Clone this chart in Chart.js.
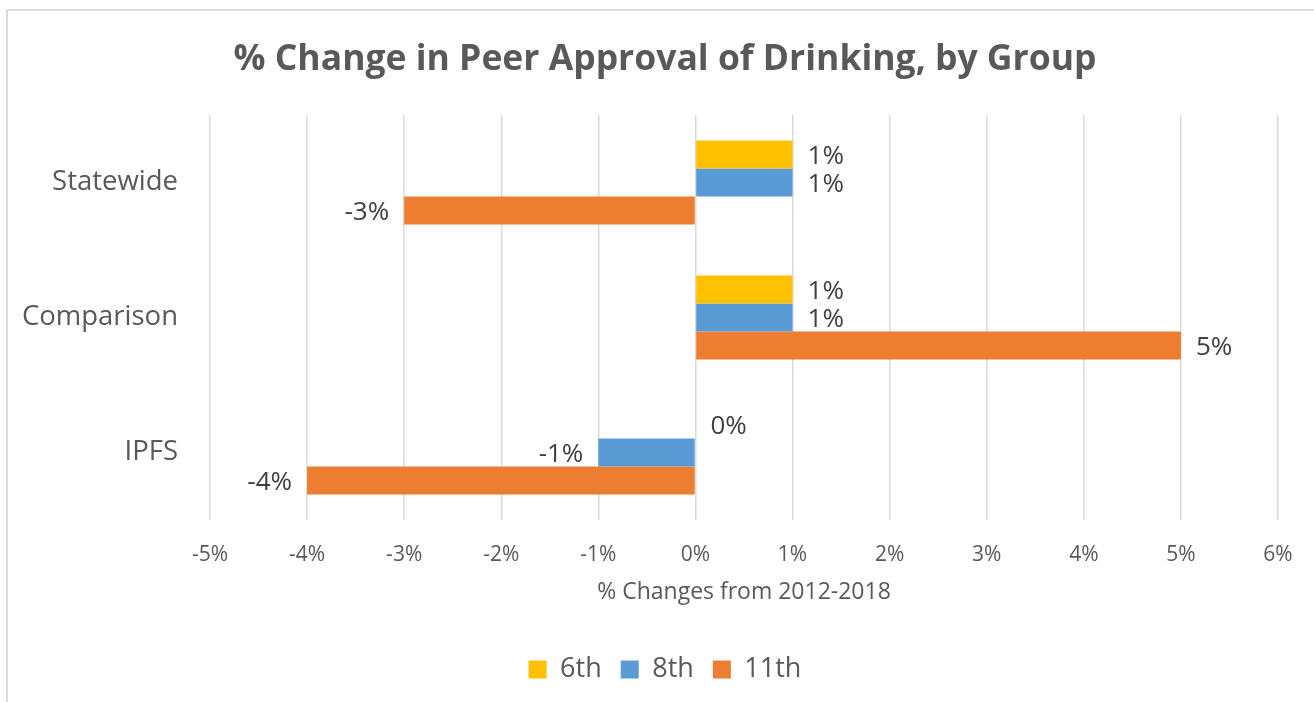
<!DOCTYPE html>
<html>
<head>
<meta charset="utf-8">
<title>% Change in Peer Approval of Drinking, by Group</title>
<script src="https://cdn.jsdelivr.net/npm/chart.js@4"></script>
<style>
  html, body { margin: 0; padding: 0; background: #fff; overflow: hidden; }
  #marco { position: absolute; left: 6px; top: 9px; width: 1400px; height: 800px; border: 2px solid #dcdcdc; }
  #grafico { position: absolute; left: 0; top: 0; }
</style>
</head>
<body>
<div id="marco"></div>
<canvas id="grafico" width="1314" height="702"></canvas>
<script>
// Dados do gráfico (variação percentual 2012-2018)
const grupos = ['Statewide', 'Comparison', 'IPFS'];
const series = ['6th', '8th', '11th'];
const valores6 = [1, 1, 0];
const valores8 = [1, 1, -1];
const valores11 = [-3, 5, -4];
const cores = ['#FFC000', '#5B9BD5', '#ED7D31'];
const eixoMin = -5;
const eixoMax = 6;

Chart.defaults.font.family = "'Open Sans', sans-serif";
Chart.defaults.color = '#595959';

// Plugin simples para escrever o valor ao lado de cada barra
const rotulosBarras = {
    id: 'rotulosBarras',
    afterDatasetsDraw(chart) {
        const ctx = chart.ctx;
        ctx.save();
        ctx.font = "26px 'Open Sans', sans-serif";
        ctx.fillStyle = '#404040';
        ctx.textBaseline = 'middle';
        chart.data.datasets.forEach((ds, i) => {
            const meta = chart.getDatasetMeta(i);
            meta.data.forEach((barra, j) => {
                const v = ds.data[j];
                if (v >= 0) {
                    ctx.textAlign = 'left';
                    ctx.fillText(v + '%', barra.x + 15, barra.y + 2);
                } else {
                    ctx.textAlign = 'right';
                    ctx.fillText(v + '%', barra.x - 15, barra.y + 2);
                }
            });
        });
        ctx.restore();
    }
};

const dadosSeries = [valores6, valores8, valores11];

new Chart(document.getElementById('grafico'), {
    type: 'bar',
    data: {
        labels: grupos,
        datasets: series.map((nome, i) => ({
            label: nome,
            data: dadosSeries[i],
            backgroundColor: cores[i],
            borderWidth: 0,
            categoryPercentage: 0.622,
            barPercentage: 1.0
        }))
    },
    options: {
        indexAxis: 'y',
        responsive: false,
        animation: false,
        layout: { padding: { left: 20, right: 4, top: 0, bottom: 9 } },
        plugins: {
            title: {
                display: true,
                text: '% Change in Peer Approval of Drinking, by Group',
                color: '#595959',
                font: { size: 35.5, weight: 'bold', lineHeight: 1.2 },
                padding: { top: 39, bottom: 33.4 }
            },
            legend: {
                display: true,
                position: 'bottom',
                labels: {
                    boxWidth: 18,
                    boxHeight: 18,
                    padding: 19,
                    color: '#595959',
                    font: { size: 27 }
                }
            },
            tooltip: { enabled: false }
        },
        scales: {
            x: {
                min: eixoMin,
                max: eixoMax,
                // altura fixa do eixo e margem direita para o último rótulo
                afterFit: (escala) => { escala.height = 117; escala.paddingRight = 36; },
                ticks: {
                    stepSize: 1,
                    padding: 22,
                    color: '#595959',
                    font: { size: 21 },
                    callback: (v) => v + '%'
                },
                grid: { color: '#d9d9d9', lineWidth: 1.5, drawTicks: false },
                border: { display: false },
                title: {
                    display: true,
                    text: '% Changes from 2012-2018',
                    color: '#595959',
                    font: { size: 23, lineHeight: 1.2 },
                    padding: { top: 0, bottom: 31 }
                }
            },
            y: {
                afterFit: (escala) => { escala.width = 190; },
                ticks: {
                    padding: 24,
                    color: '#595959',
                    font: { size: 27.5 }
                },
                grid: { display: false },
                border: { display: false }
            }
        }
    },
    plugins: [rotulosBarras]
});
</script>
</body>
</html>
